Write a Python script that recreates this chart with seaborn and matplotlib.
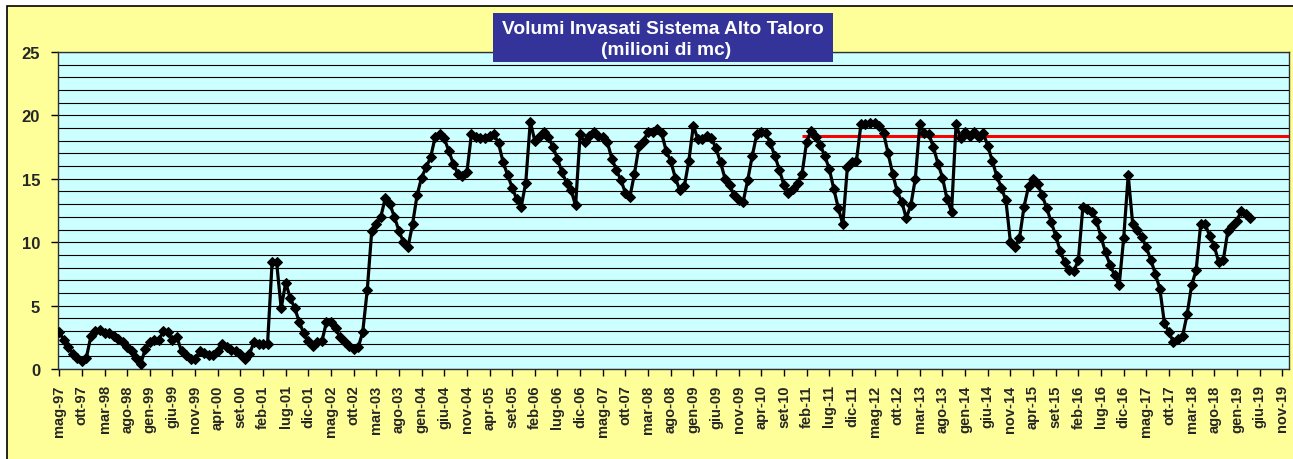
import numpy as np
import pandas as pd
import matplotlib
matplotlib.use("Agg")
import matplotlib.pyplot as plt
from matplotlib.patches import Rectangle
from matplotlib.ticker import MultipleLocator
import seaborn as sns

# ---------------- data (monthly, from mag-97) ----------------
volumi = [
    2.9, 2.3, 1.7, 1.2, 0.9, 0.6, 0.9, 2.6, 3.0, 3.1, 2.8, 2.8,      # mag-97 .. apr-98
    2.6, 2.4, 2.1, 1.7, 1.4, 0.9, 0.4, 1.6, 2.1, 2.3, 2.3, 3.0,      # mag-98 .. apr-99
    2.9, 2.3, 2.5, 1.4, 1.1, 0.8, 0.8, 1.4, 1.3, 1.1, 1.1, 1.4,      # mag-99 .. apr-00
    2.0, 1.7, 1.5, 1.4, 1.2, 0.8, 1.2, 2.1, 2.0, 2.0, 2.0, 8.4,      # mag-00 .. apr-01
    8.4, 4.8, 6.8, 5.6, 4.8, 3.7, 2.8, 2.2, 1.8, 2.1, 2.2, 3.7,      # mag-01 .. apr-02
    3.7, 3.2, 2.5, 2.1, 1.8, 1.6, 1.7, 2.9, 6.2, 10.9, 11.4, 12.0,   # mag-02 .. apr-03
    13.5, 13.0, 12.0, 10.9, 10.0, 9.6, 11.4, 13.7, 15.1, 15.9, 16.7, 18.3,  # mag-03 .. apr-04
    18.5, 18.2, 17.2, 16.2, 15.4, 15.2, 15.5, 18.5, 18.3, 18.2, 18.2, 18.4,  # mag-04 .. apr-05
    18.5, 17.8, 16.3, 15.3, 14.3, 13.4, 12.8, 14.7, 19.5, 18.0, 18.3, 18.7,  # mag-05 .. apr-06
    18.3, 17.5, 16.6, 15.5, 14.7, 14.1, 12.9, 18.5, 17.9, 18.4, 18.7, 18.4,  # mag-06 .. apr-07
    18.3, 17.9, 16.6, 15.7, 14.9, 13.9, 13.6, 15.4, 17.6, 18.0, 18.7, 18.7,  # mag-07 .. apr-08
    18.9, 18.6, 17.2, 16.4, 15.1, 14.1, 14.4, 16.4, 19.2, 18.1, 18.1, 18.4,  # mag-08 .. apr-09
    18.2, 17.4, 16.3, 15.0, 14.5, 13.7, 13.3, 13.2, 14.9, 16.8, 18.5, 18.7,  # mag-09 .. apr-10
    18.6, 17.8, 16.8, 15.7, 14.5, 13.9, 14.2, 14.7, 15.4, 17.9, 18.8, 18.3,  # mag-10 .. apr-11
    17.7, 16.8, 15.8, 14.2, 12.7, 11.4, 15.9, 16.3, 16.4, 19.3, 19.3, 19.4,  # mag-11 .. apr-12
    19.4, 19.2, 18.6, 17.0, 15.4, 14.0, 13.2, 11.9, 12.9, 15.0, 19.3, 18.6,  # mag-12 .. apr-13
    18.5, 17.5, 16.2, 15.1, 13.4, 12.4, 19.3, 18.2, 18.7, 18.4, 18.7, 18.3,  # mag-13 .. apr-14
    18.6, 17.6, 16.4, 15.2, 14.3, 13.3, 10.0, 9.6, 10.3, 12.8, 14.4, 15.0,   # mag-14 .. apr-15
    14.6, 13.7, 12.7, 11.6, 10.5, 9.3, 8.4, 7.8, 7.7, 8.6, 12.8, 12.6,       # mag-15 .. apr-16
    12.4, 11.7, 10.4, 9.2, 8.2, 7.4, 6.6, 10.3, 15.3, 11.4, 11.0, 10.4,      # mag-16 .. apr-17
    9.6, 8.6, 7.5, 6.3, 3.6, 2.9, 2.1, 2.4, 2.6, 4.3, 6.6, 7.8,              # mag-17 .. apr-18
    11.4, 11.4, 10.5, 9.7, 8.4, 8.6, 10.9, 11.3, 11.7, 12.5, 12.2, 11.9,     # mag-18 .. apr-19
]

tick_labels = ["mag-97", "ott-97", "mar-98", "ago-98", "gen-99", "giu-99", "nov-99",
               "apr-00", "set-00", "feb-01", "lug-01", "dic-01", "mag-02", "ott-02",
               "mar-03", "ago-03", "gen-04", "giu-04", "nov-04", "apr-05", "set-05",
               "feb-06", "lug-06", "dic-06", "mag-07", "ott-07", "mar-08", "ago-08",
               "gen-09", "giu-09", "nov-09", "apr-10", "set-10", "feb-11", "lug-11",
               "dic-11", "mag-12", "ott-12", "mar-13", "ago-13", "gen-14", "giu-14",
               "nov-14", "apr-15", "set-15", "feb-16", "lug-16", "dic-16", "mag-17",
               "ott-17", "mar-18", "ago-18", "gen-19", "giu-19", "nov-19"]

soglia_valore = 18.4          # red reference line (milioni di mc)
soglia_inizio_mese = 164      # month index (gen-11) where the red line starts

titolo = ["Volumi Invasati Sistema Alto Taloro", "(milioni di mc)"]

# ---------------- style ----------------
sns.set_theme(style="white")
plt.rcParams['font.family'] = ['Liberation Sans', 'DejaVu Sans']
plt.rcParams['font.weight'] = 'bold'

W, H = 1293, 460
fig = plt.figure(figsize=(W / 100, H / 100), dpi=100)
fig.patch.set_facecolor('white')

# outer yellow chart area with black border
fig.patches.append(Rectangle((7 / W, -0.05), 1.2, (H - 7) / H + 0.05,
                             transform=fig.transFigure, facecolor='#FFFF99',
                             edgecolor='black', linewidth=1.2, zorder=-5))

ax = fig.add_axes([58.3 / W, 1 - 370 / H, (1289 - 58.3) / W, (370 - 53) / H])
ax.set_zorder(1)
ax.set_facecolor('#CCFFFF')

df = pd.DataFrame({"mese": np.arange(len(volumi)), "volume": volumi})
sns.lineplot(data=df, x="mese", y="volume", ax=ax, color='black', linewidth=2.3,
             marker='D', markersize=5, markeredgecolor='black',
             markerfacecolor='black', zorder=4)

x_max = 271.5
ax.plot([soglia_inizio_mese, x_max + 1], [soglia_valore, soglia_valore],
        color='#FF0000', linewidth=2.2, zorder=3, solid_capstyle='butt')

ax.set_xlim(-0.2, x_max)
ax.set_ylim(0, 25)
ax.set_xticks(np.arange(len(tick_labels)) * 5)
ax.set_xticklabels(tick_labels, rotation=90, fontsize=10.5, fontweight='bold')
ax.set_yticks(range(0, 26, 5))
ax.set_yticklabels([str(v) for v in range(0, 26, 5)], fontsize=12, fontweight='bold')
ax.yaxis.set_minor_locator(MultipleLocator(1))
ax.grid(axis='y', which='both', color='black', linewidth=0.8, zorder=1)
ax.grid(axis='x', visible=False)
ax.set_axisbelow(True)
ax.tick_params(axis='both', which='major', direction='out', length=5, width=1,
               color='black', bottom=True, left=True)
ax.tick_params(axis='y', which='minor', length=0)
ax.tick_params(axis='x', pad=6)
ax.tick_params(axis='y', pad=8)
ax.set_xlabel("")
ax.set_ylabel("")
for s in ax.spines.values():
    s.set_visible(True)
    s.set_color('#303030')
    s.set_linewidth(1.0)

# title box (drawn above the plot area)
fig.patches.append(Rectangle((493 / W, 1 - 63 / H), (833 - 493) / W, 49 / H,
                             transform=fig.transFigure, facecolor='#333399',
                             edgecolor='none', zorder=5))
fig.text(663 / W, 1 - 29.5 / H, titolo[0], color='white', fontsize=13.8,
         fontweight='bold', ha='center', va='center', zorder=6)
fig.text(666 / W, 1 - 50.5 / H, titolo[1], color='white', fontsize=13.8,
         fontweight='bold', ha='center', va='center', zorder=6)

fig.savefig("out.png", dpi=100)
